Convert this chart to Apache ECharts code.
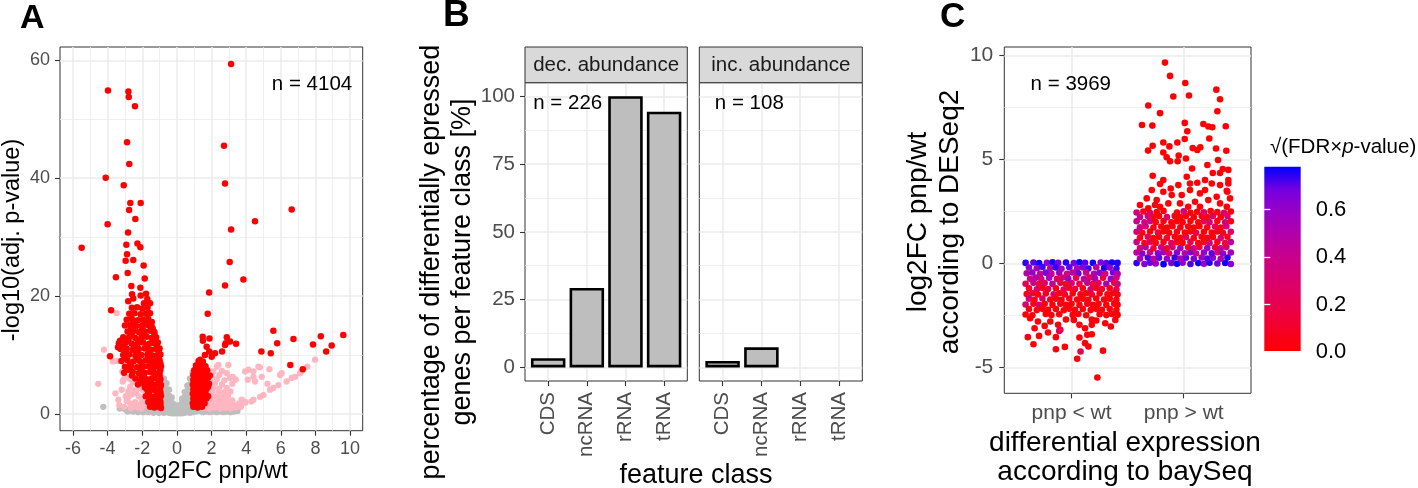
<!DOCTYPE html>
<html><head><meta charset="utf-8">
<script src="https://cdn.jsdelivr.net/npm/echarts@6/dist/echarts.min.js"></script>
<style>html,body{margin:0;padding:0;background:#fff}#c{width:1418px;height:488px}</style>
</head><body><div id="c"></div>
<script>
// ---------------- Panel A : volcano plot ----------------
const aXTicks = [-6,-4,-2,0,2,4,6,8,10];
const aYTicks = [0,20,40,60];
const volcanoGray = [
[-4.25,1.2],
[-3.3,0.9],[-3.0,0.8],[-2.7,0.9],[-2.4,0.7],[-2.1,0.8],[-1.8,0.6],[-1.5,0.7],[-1.2,0.5],[-2.85,0.4],[-2.55,0.4],[-2.25,0.3],[-1.95,0.3],[-1.65,0.3],[-1.35,0.2],[-1.05,0.2],
[-0.9,0.3],[-0.9,1.3],[-0.9,2.3],[-0.9,3.3],[-0.9,4.3],[-0.9,5.3],[-0.9,6.2],
[-0.75,0.2],[-0.75,1.1],[-0.75,2.1],[-0.75,3.1],[-0.75,4.1],[-0.75,5.1],[-0.75,6.0],
[-0.6,0.3],[-0.6,1.2],[-0.6,2.2],[-0.6,3.2],[-0.6,4.2],[-0.6,5.2],
[-0.45,0.2],[-0.45,1.1],[-0.45,2.1],[-0.45,3.1],[-0.45,4.1],
[-0.3,0.1],[-0.3,1.0],[-0.3,1.9],[-0.3,2.8],
[-0.15,0.1],[-0.15,0.9],[-0.15,1.6],
[0.0,0.1],[0.0,0.6],
[0.15,0.1],[0.15,0.9],[0.15,1.5],
[0.3,0.1],[0.3,1.0],[0.3,1.9],[0.3,2.6],
[0.45,0.2],[0.45,1.1],[0.45,2.0],[0.45,2.9],[0.45,3.7],
[0.6,0.3],[0.6,1.2],[0.6,2.1],[0.6,3.0],[0.6,3.9],[0.6,4.8],
[0.75,0.2],[0.75,1.1],[0.75,2.0],[0.75,3.0],[0.75,4.0],[0.75,5.0],[0.75,6.0],
[0.9,0.3],[0.9,1.2],[0.9,2.2],[0.9,3.2],[0.9,4.2],[0.9,5.2],[0.9,6.3],[0.9,7.0],
[1.1,0.4],[1.3,0.5],[1.5,0.3],[1.7,0.4],[1.9,0.3],[2.1,0.4],[2.3,0.3],[2.5,0.4],[2.7,0.3],[2.9,0.4],[3.1,0.3],[3.3,0.4],[3.5,0.5],
[1.2,0.9],[1.6,0.8],[2.0,0.8],[2.4,0.7],[2.8,0.7],[3.2,0.8]
];
const volcanoPink = [
[-3.48,17.1],[-4.21,10.9],[-3.44,9.0],[-4.54,5.1],[-3.13,5.5],[-3.19,4.1],[-3.33,1.5],[-3.38,2.4],[-2.95,3.0],[-2.7,4.6],
[-2.9,2.2],[-2.6,3.3],[-2.4,2.0],[-2.45,4.0],[-2.2,3.0],[-2.1,1.6],[-2.25,5.6],[-2.0,2.4],[-1.85,1.5],[-2.7,1.8],
[-2.5,1.3],[-3.0,6.3],[-2.75,6.0],[-2.55,5.4],[-1.95,4.0],[-2.15,4.4],[-3.55,3.5],[-2.8,3.8],[-2.35,3.6],[-1.75,1.9],
[-2.05,0.9],[-2.65,1.0],[-3.05,1.2],[-3.7,8.9],[-3.15,7.2],[-2.25,1.1],[-1.6,1.2],[-3.09,5.8],[-2.8,2.9],
[1.6,1.0],[1.9,0.9],[2.2,1.1],[2.5,0.9],[2.8,1.0],[3.1,0.9],[3.4,1.1],[3.7,1.2],
[1.75,1.6],[2.05,1.7],[2.35,1.5],[2.65,1.6],[2.95,1.7],[3.3,1.5],[3.6,1.8],[3.95,1.9],[4.3,2.1],
[1.65,2.3],[1.95,2.4],[2.25,2.2],[2.55,2.3],[2.85,2.4],[3.2,2.3],[3.74,2.4],[4.42,2.4],
[1.7,3.0],[2.0,3.1],[2.3,2.9],[2.6,3.0],[2.95,3.1],[4.8,2.9],[5.0,3.2],
[1.75,3.7],[2.05,3.8],[2.4,3.6],[2.75,3.7],[3.1,3.8],
[1.8,4.4],[2.1,4.5],[2.45,4.3],[2.88,4.4],[5.38,4.1],[5.57,4.4],
[1.85,5.1],[2.2,5.2],[2.6,5.0],[3.2,5.1],[5.23,5.1],[5.86,4.9],
[1.9,5.8],[2.3,5.9],[2.75,5.7],[3.4,5.8],[4.09,5.8],[4.51,5.5],[6.34,5.5],
[2.0,6.5],[2.45,6.6],[3.07,6.1],[3.23,6.3],[4.42,6.3],[4.9,6.3],[5.96,6.6],[6.63,6.1],[6.05,6.9],[7.11,6.9],
[2.1,7.2],[2.6,7.3],[2.88,6.9],[3.94,7.2],[4.42,7.2],[5.34,7.6],[7.21,7.3],[4.13,7.5],
[2.3,8.0],[2.97,8.3],[2.4,8.3],[4.8,7.9],[4.71,8.0],[7.53,8.0],[7.98,9.2],[3.94,2.1],[3.26,1.5],[6.83,6.3]
];
const volcanoRed = [
[-3.98,54.9],[-2.80,54.7],[-2.78,53.8],[-2.42,52.2],[-2.88,46.1],[-2.75,42.4],[-4.11,40.1],[-3.07,38.8],[-2.69,35.8],[-2.09,35.8],
[-2.76,34.6],[-2.40,33.1],[-4.00,32.2],[-2.82,30.8],[-5.50,28.2],[-2.92,28.7],[-2.28,28.9],[-2.11,28.3],[-2.88,27.1],[-2.52,26.1],
[-2.96,26.0],[-1.92,25.2],[-2.84,23.9],[-3.52,23.2],[-1.86,23.0],[-2.63,21.7],[-2.11,21.4],[-3.80,17.6],[-2.59,20.3],[-2.09,20.1],
[-1.78,20.4],[-1.71,19.5],[-2.81,19.1],[-2.52,19.6],[-1.90,18.8],[-1.55,18.8],
[-2.6,18.0],[-2.3,18.1],[-2.0,17.9],[-1.7,18.0],
[-2.75,17.0],[-2.45,17.1],[-2.1,16.9],[-1.8,17.0],[-1.55,17.1],
[-2.9,16.0],[-2.6,16.1],[-2.25,15.9],[-1.95,16.0],[-1.65,16.1],
[-2.5,15.5],[-1.85,15.4],[-1.45,15.6],
[-3.0,15.0],[-2.7,15.1],[-2.35,14.9],[-2.0,15.0],[-1.7,15.1],[-1.45,14.8],
[-2.65,14.5],[-2.0,14.4],[-1.4,14.5],
[-2.85,14.0],[-2.5,14.1],[-2.2,13.9],[-1.85,14.0],[-1.55,14.1],[-1.3,13.9],
[-2.6,13.5],[-1.9,13.4],[-1.3,13.6],
[-3.1,13.0],[-2.75,13.1],[-2.4,12.9],[-2.05,13.0],[-1.75,13.1],[-1.45,12.9],[-1.2,13.0],
[-2.8,12.5],[-2.1,12.4],[-1.4,12.6],
[-3.35,12.0],[-2.95,12.1],[-2.6,11.9],[-2.25,12.0],[-1.95,12.1],[-1.6,11.9],[-1.3,12.0],[-1.1,12.1],
[-3.1,11.5],[-2.4,11.4],[-1.7,11.6],[-1.15,11.5],
[-3.25,11.0],[-2.9,11.1],[-2.55,10.9],[-2.2,11.0],[-1.85,11.1],[-1.5,10.9],[-1.2,11.0],[-1.0,11.1],
[-2.95,10.5],[-2.3,10.4],[-1.6,10.6],[-1.05,10.5],
[-3.1,10.0],[-2.75,10.1],[-2.4,9.9],[-2.05,10.0],[-1.7,10.1],[-1.4,9.9],[-1.1,10.0],[-0.95,10.1],
[-2.95,9.5],[-2.3,9.4],[-1.6,9.6],[-1.05,9.5],
[-3.2,9.0],[-2.85,9.1],[-2.5,8.9],[-2.15,9.0],[-1.8,9.1],[-1.5,8.9],[-1.25,9.0],[-1.0,9.1],
[-2.7,8.5],[-2.0,8.4],[-1.35,8.6],[-0.95,8.5],
[-3.0,8.0],[-2.65,8.1],[-2.3,7.9],[-1.95,8.0],[-1.65,8.1],[-1.35,7.9],[-1.1,8.0],[-0.92,8.1],
[-2.8,7.5],[-2.1,7.4],[-1.4,7.6],[-0.95,7.5],
[-3.05,7.0],[-2.55,7.1],[-2.2,6.9],[-1.85,7.0],[-1.55,7.1],[-1.25,6.9],[-1.0,7.0],
[-2.6,6.5],[-1.9,6.4],[-1.3,6.6],[-1.0,6.5],
[-2.4,6.0],[-2.05,6.1],[-1.75,5.9],[-1.45,6.0],[-1.2,6.1],[-0.95,5.9],
[-2.1,5.5],[-1.5,5.4],[-1.0,5.6],
[-2.25,5.0],[-1.9,5.1],[-1.6,4.9],[-1.35,5.0],[-1.1,5.1],[-0.92,4.9],
[-1.85,4.5],[-1.3,4.4],[-0.95,4.6],
[-1.7,4.0],[-1.45,4.1],[-1.2,3.9],[-0.98,4.0],
[-1.65,3.5],[-1.15,3.4],[-0.95,3.6],
[-1.8,3.0],[-1.55,3.1],[-1.3,2.9],[-1.05,3.0],[-0.92,3.1],
[-1.5,2.5],[-1.25,2.4],[-1.0,2.5],
[-1.65,2.0],[-1.4,2.1],[-1.15,1.9],[-0.95,2.0],
[-1.45,1.5],[-1.2,1.6],[-0.95,1.5],
[-1.55,1.2],[-1.3,1.1],[-1.05,1.2],[-0.92,1.0],
[-3.28,12.4],[-3.86,9.8],[-3.4,11.3],
[3.13,59.4],[2.72,45.5],[2.78,39.1],[6.63,34.7],[4.51,32.7],[3.13,31.3],[3.05,25.8],[3.84,22.8],[2.78,21.8],[1.86,20.6],[1.78,17.0],
[5.57,14.1],[9.61,13.4],[8.31,13.2],[6.73,12.7],[5.79,12.0],[7.86,11.8],[8.94,11.6],[4.88,10.6],[5.42,10.3],[8.62,10.6],[6.55,8.3],[7.27,7.6],
[3.42,11.9],[2.88,13.0],[2.61,10.6],[2.82,12.0],[3.07,12.3],[2.78,11.7],[1.49,13.1],[1.88,12.8],[1.5,12.4],[1.72,11.4],[1.87,10.6],[2.01,9.7],[2.2,10.3],[1.62,10.0],[1.34,9.2],[1.37,8.3],
[1.25,9.0],[1.5,8.9],
[1.1,8.2],[1.65,8.1],
[1.15,7.8],[1.55,7.7],
[1.0,7.4],[1.25,7.5],[1.5,7.3],[1.75,7.4],
[1.1,7.0],[1.6,6.9],
[0.95,6.6],[1.2,6.7],[1.45,6.5],[1.7,6.6],[1.9,6.5],
[1.05,6.2],[1.55,6.1],[1.8,6.2],
[0.95,5.8],[1.2,5.9],[1.45,5.7],[1.7,5.8],
[1.05,5.4],[1.55,5.3],
[0.92,5.0],[1.15,5.1],[1.4,4.9],[1.65,5.0],[1.85,5.1],
[1.05,4.6],[1.55,4.5],[1.8,4.6],
[0.95,4.2],[1.2,4.3],[1.45,4.1],[1.7,4.2],
[1.05,3.8],[1.55,3.7],
[0.92,3.4],[1.15,3.5],[1.4,3.3],[1.65,3.4],
[1.05,3.0],[1.55,2.9],[1.8,3.0],
[0.95,2.6],[1.2,2.7],[1.45,2.5],[1.7,2.6],
[1.05,2.2],[1.5,2.1],
[0.92,1.8],[1.15,1.9],[1.4,1.7],[1.6,1.8],
[1.05,1.5],[1.3,1.4],
[0.95,1.2],[1.2,1.1],[1.45,1.2]
];

// ---------------- Panel B : bar facets ----------------
const featureClasses = ['CDS','ncRNA','rRNA','tRNA'];
const decAbundance = [3.4, 29.3, 100, 94.3];
const incAbundance = [2.4, 7.4, null, null];
const bYTicks = [0,25,50,75,100];
const facetNames = ['dec. abundance','inc. abundance'];

// ---------------- Panel C : jitter plot ----------------
const cCategories = ['pnp < wt','pnp > wt'];
const cYTicks = [-5,0,5,10];
const colorTicks = [0,0.2,0.4,0.6];
// [x jitter position, log2FC, sqrt(FDR x p-value)]
const jitterDown = [
[0.59,0.02,0.74],[0.66,0.04,0.70],[0.71,0.01,0.77],[0.78,0.03,0.62],[0.83,0.05,0.76],[0.88,0.02,0.68],[0.95,0.04,0.75],[1.02,0.01,0.66],[1.07,0.05,0.77],[1.12,0.03,0.71],[1.19,0.02,0.76],[1.26,0.04,0.64],[1.31,0.01,0.70],[1.36,0.04,0.77],[1.41,0.02,0.75],
[0.62,-0.20,0.62],[0.69,-0.24,0.55],[0.74,-0.18,0.72],[0.81,-0.23,0.48],[0.86,-0.20,0.74],[0.91,-0.26,0.58],[0.98,-0.19,0.70],[1.05,-0.24,0.52],[1.10,-0.20,0.64],[1.15,-0.25,0.72],[1.22,-0.19,0.45],[1.29,-0.23,0.76],[1.34,-0.20,0.60],[1.40,-0.25,0.73],
[0.60,-0.48,0.48],[0.65,-0.44,0.60],[0.72,-0.50,0.42],[0.77,-0.45,0.66],[0.82,-0.51,0.40],[0.89,-0.46,0.58],[0.96,-0.50,0.35],[1.01,-0.44,0.45],[1.06,-0.49,0.69],[1.13,-0.45,0.38],[1.20,-0.51,0.50],[1.25,-0.46,0.64],[1.30,-0.50,0.32],[1.37,-0.44,0.67],[1.41,-0.51,0.52],
[0.63,-0.74,0.35],[0.68,-0.69,0.50],[0.73,-0.76,0.28],[0.80,-0.70,0.55],[0.87,-0.75,0.22],[0.92,-0.68,0.30],[0.97,-0.74,0.58],[1.04,-0.70,0.18],[1.11,-0.76,0.47],[1.16,-0.69,0.25],[1.21,-0.74,0.52],[1.28,-0.70,0.15],[1.35,-0.75,0.60],[1.40,-0.69,0.33],
[0.59,-0.98,0.22],[0.66,-0.94,0.40],[0.71,-1.00,0.12],[0.76,-0.95,0.30],[0.83,-0.99,0.45],[0.90,-0.94,0.18],[0.95,-1.00,0.08],[1.00,-0.95,0.35],[1.07,-0.99,0.20],[1.14,-0.94,0.42],[1.19,-1.00,0.10],[1.24,-0.95,0.28],[1.31,-0.99,0.50],[1.38,-0.94,0.15],[1.41,-1.00,0.32],
[0.62,-1.20,0.10],[0.69,-1.25,0.30],[0.74,-1.19,0.05],[0.79,-1.24,0.18],[0.86,-1.20,0.04],[0.93,-1.26,0.25],[0.98,-1.19,0.06],[1.03,-1.24,0.15],[1.10,-1.20,0.03],[1.17,-1.25,0.32],[1.22,-1.19,0.08],[1.27,-1.24,0.12],[1.34,-1.20,0.04],[1.40,-1.25,0.22],
[0.60,-1.48,0.05],[0.65,-1.44,0.14],[0.70,-1.50,0.03],[0.77,-1.45,0.08],[0.84,-1.49,0.30],[0.89,-1.44,0.04],[0.94,-1.50,0.10],[1.01,-1.45,0.02],[1.08,-1.49,0.06],[1.13,-1.44,0.03],[1.18,-1.50,0.12],[1.25,-1.45,0.04],[1.32,-1.49,0.02],[1.37,-1.44,0.07],[1.41,-1.50,0.03],
[0.62,-1.70,0.34],[0.67,-1.75,0.04],[0.74,-1.69,0.28],[0.81,-1.74,0.03],[0.86,-1.70,0.05],[0.91,-1.76,0.02],[0.98,-1.69,0.08],[1.05,-1.74,0.03],[1.10,-1.70,0.02],[1.15,-1.75,0.06],[1.22,-1.69,0.02],[1.29,-1.74,0.04],[1.34,-1.70,0.02],[1.40,-1.75,0.05],
[0.59,-1.98,0.30],[0.66,-1.94,0.02],[0.71,-1.99,0.36],[0.76,-1.95,0.03],[0.83,-2.00,0.02],[0.90,-1.94,0.05],[0.95,-1.99,0.02],[1.00,-1.95,0.03],[1.07,-2.00,0.02],[1.14,-1.94,0.04],[1.19,-1.99,0.02],[1.24,-1.95,0.03],[1.31,-2.00,0.02],[1.38,-1.94,0.03],[1.41,-1.99,0.02],
[0.62,-2.20,0.03],[0.69,-2.25,0.02],[0.74,-2.19,0.02],[0.79,-2.24,0.03],[0.86,-2.20,0.02],[0.93,-2.26,0.02],[0.98,-2.19,0.03],[1.03,-2.24,0.02],[1.10,-2.20,0.02],[1.17,-2.25,0.03],[1.22,-2.19,0.02],[1.27,-2.24,0.02],[1.34,-2.20,0.03],[1.40,-2.25,0.02],
[0.59,-2.46,0.02],[0.65,-2.50,0.02],[0.77,-2.44,0.03],[0.82,-2.49,0.02],[0.89,-2.45,0.02],[1.01,-2.48,0.02],[1.06,-2.44,0.03],[1.13,-2.50,0.02],[1.25,-2.45,0.02],[1.31,-2.49,0.02],[1.36,-2.44,0.03],[1.41,-2.48,0.02],
[0.63,-2.64,0.02],[0.70,-2.80,0.02],[0.81,-2.80,0.02],[0.95,-2.70,0.02],[1.02,-2.72,0.02],[1.18,-2.70,0.02],[1.30,-2.88,0.02],[1.39,-2.72,0.02],[1.22,-2.75,0.02],
[0.76,-3.01,0.02],[0.88,-2.96,0.02],[0.90,-3.20,0.25],[1.07,-2.96,0.02],[1.12,-3.12,0.02],[1.18,-2.96,0.02],[1.35,-3.04,0.02],[0.67,-3.12,0.02],
[0.61,-3.55,0.02],[0.66,-3.89,0.02],[0.71,-3.49,0.02],[0.79,-3.33,0.02],[0.86,-3.55,0.02],[0.86,-4.13,0.02],[0.94,-4.02,0.02],[0.89,-3.25,0.22],
[1.05,-4.59,0.02],[1.08,-4.24,0.18],[1.07,-3.57,0.02],[1.12,-3.84,0.02],[1.14,-3.44,0.02],[1.18,-3.41,0.02],[1.15,-4.00,0.02],[1.28,-4.20,0.02],[1.23,-5.49,0.02]
];
const jitterUp = [
[1.58,0.01,0.74],[1.65,-0.03,0.62],[1.70,0.03,0.70],[1.75,-0.01,0.55],[1.82,-0.04,0.78],[1.89,0.02,0.66],[1.94,-0.02,0.77],[1.99,0.03,0.60],[2.06,-0.03,0.71],[2.13,0.01,0.77],[2.18,-0.02,0.58],[2.23,0.03,0.76],[2.30,-0.01,0.68],[2.37,0.02,0.77],[2.42,-0.03,0.64],
[1.61,0.23,0.52],[1.68,0.28,0.72],[1.73,0.22,0.45],[1.78,0.27,0.70],[1.85,0.22,0.60],[1.92,0.28,0.74],[1.97,0.23,0.48],[2.02,0.27,0.70],[2.09,0.22,0.66],[2.16,0.28,0.55],[2.21,0.23,0.71],[2.26,0.27,0.62],[2.33,0.22,0.50],[2.39,0.28,0.75],
[1.58,0.52,0.45],[1.63,0.47,0.62],[1.70,0.53,0.38],[1.77,0.48,0.66],[1.82,0.53,0.55],[1.87,0.47,0.30],[1.94,0.52,0.64],[2.01,0.48,0.50],[2.06,0.53,0.68],[2.11,0.47,0.42],[2.18,0.52,0.60],[2.25,0.48,0.70],[2.30,0.53,0.35],[2.35,0.47,0.62],[2.42,0.52,0.57],
[1.61,0.73,0.30],[1.66,0.78,0.50],[1.73,0.72,0.12],[1.80,0.77,0.42],[1.85,0.72,0.05],[1.90,0.78,0.35],[1.97,0.73,0.55],[2.04,0.77,0.08],[2.09,0.72,0.40],[2.14,0.78,0.22],[2.21,0.73,0.58],[2.28,0.77,0.10],[2.33,0.72,0.45],[2.38,0.78,0.28],
[1.58,1.02,0.40],[1.65,0.97,0.05],[1.70,1.03,0.25],[1.75,0.98,0.03],[1.82,1.03,0.08],[1.89,0.97,0.30],[1.94,1.02,0.04],[1.99,0.98,0.02],[2.06,1.03,0.20],[2.13,0.97,0.04],[2.18,1.02,0.03],[2.23,0.98,0.35],[2.30,1.03,0.05],[2.37,0.97,0.15],[2.42,1.02,0.45],
[1.61,1.23,0.06],[1.68,1.28,0.22],[1.73,1.22,0.03],[1.78,1.27,0.02],[1.85,1.22,0.10],[1.92,1.28,0.03],[1.97,1.23,0.02],[2.02,1.27,0.25],[2.09,1.22,0.03],[2.16,1.28,0.02],[2.21,1.23,0.08],[2.26,1.27,0.03],[2.33,1.22,0.30],[2.39,1.28,0.04],
[1.58,1.52,0.32],[1.63,1.47,0.04],[1.70,1.53,0.02],[1.77,1.48,0.15],[1.82,1.53,0.03],[1.87,1.47,0.02],[1.94,1.52,0.05],[2.01,1.48,0.02],[2.06,1.53,0.03],[2.11,1.47,0.18],[2.18,1.52,0.02],[2.25,1.48,0.04],[2.30,1.53,0.02],[2.35,1.47,0.06],[2.42,1.52,0.28],
[1.61,1.73,0.38],[1.66,1.78,0.30],[1.73,1.72,0.05],[1.80,1.77,0.02],[1.85,1.72,0.03],[1.90,1.78,0.02],[1.97,1.73,0.04],[2.04,1.77,0.02],[2.09,1.72,0.02],[2.14,1.78,0.03],[2.21,1.73,0.02],[2.28,1.77,0.22],[2.33,1.72,0.03],[2.38,1.78,0.35],
[1.58,2.02,0.42],[1.65,1.97,0.35],[1.70,2.03,0.40],[1.75,1.98,0.03],[1.82,2.03,0.02],[1.89,1.97,0.04],[1.94,2.02,0.02],[1.99,1.98,0.02],[2.06,2.03,0.03],[2.13,1.97,0.02],[2.18,2.02,0.25],[2.23,1.98,0.30],[2.30,2.03,0.02],[2.37,1.97,0.38],[2.42,2.02,0.03],
[1.61,2.23,0.40],[1.68,2.28,0.36],[1.73,2.22,0.03],[1.78,2.27,0.02],[1.85,2.22,0.28],[1.92,2.28,0.02],[1.97,2.23,0.03],[2.02,2.27,0.02],[2.09,2.22,0.02],[2.16,2.28,0.04],[2.21,2.23,0.02],[2.26,2.27,0.32],[2.33,2.22,0.02],[2.39,2.28,0.36],
[1.58,2.44,0.38],[1.64,2.49,0.05],[1.70,2.42,0.30],[1.76,2.47,0.02],[1.82,2.52,0.03],[1.94,2.44,0.02],[2.00,2.50,0.35],[2.06,2.43,0.02],[2.12,2.48,0.02],[2.18,2.45,0.28],[2.24,2.51,0.02],[2.30,2.46,0.03],[2.36,2.43,0.30],[2.42,2.49,0.02],
[1.789,3.81,0.02],[1.715,3.52,0.02],[1.884,3.60,0.02],[1.818,3.44,0.02],[1.610,2.80,0.02],[1.670,3.12,0.02],[1.759,3.04,0.02],[1.744,2.80,0.02],[1.893,3.28,0.02],[1.982,3.28,0.02],
[2.056,3.84,0.02],[2.121,3.87,0.02],[2.056,3.52,0.02],[2.145,3.36,0.02],[2.190,3.52,0.02],[2.250,3.84,0.02],[2.324,3.76,0.02],[2.398,3.84,0.02],[2.384,3.49,0.02],[2.294,3.20,0.02],
[2.219,3.04,0.02],[2.101,2.96,0.02],[1.967,2.88,0.02],[1.863,2.88,0.02],[2.324,2.88,0.02],[2.384,2.72,0.02],[1.818,4.00,0.02],[2.027,4.16,0.02],[2.190,4.00,0.02],[1.952,3.76,0.02],
[2.145,2.72,0.02],[2.040,2.72,0.02],[1.789,2.72,0.02],[1.684,2.64,0.02],[2.413,3.12,0.02],[2.398,4.00,0.02],[2.389,3.44,0.02],
[1.833,9.65,0.01],[1.878,9.01,0.01],[2.014,8.67,0.01],[2.291,8.35,0.01],[1.907,8.02,0.01],[2.047,8.07,0.01],[2.324,7.89,0.01],[1.684,7.59,0.01],[2.300,7.31,0.01],[1.789,7.22,0.01],
[1.628,6.65,0.01],[1.720,6.62,0.01],[2.009,6.75,0.01],[2.175,6.70,0.01],[2.220,6.58,0.01],[2.255,6.54,0.01],[2.375,6.59,0.01],[2.032,6.35,0.01],[2.009,5.98,0.01],[2.228,6.00,0.01],
[1.818,5.81,0.01],[1.723,5.65,0.01],[1.872,5.62,0.01],[1.943,5.81,0.01],[1.682,5.42,0.01],[2.080,5.54,0.01],[2.121,5.45,0.01],[2.148,5.58,0.01],[2.288,5.52,0.01],[2.380,5.41,0.01],
[1.818,5.33,0.01],[1.848,5.10,0.01],[1.878,4.91,0.01],[1.955,5.18,0.01],[1.946,4.91,0.01],[2.020,5.04,0.01],[2.211,4.73,0.01],[2.306,4.97,0.01],[2.074,4.56,0.01],[2.259,4.34,0.01],
[2.324,4.34,0.01],[2.348,4.53,0.01],[2.398,4.49,0.01],[1.723,4.21,0.01]
];

// ---------------- styling constants ----------------
const FONT = '"Liberation Sans", Arial, Helvetica, sans-serif';
const GRID_COLOR = '#ebebeb';
const TICK_COLOR = '#333333';
const LABEL_COLOR = '#4d4d4d';
const GRADIENT = ['#FF0000','#F4002A','#E8004F','#DA006C','#CA0088','#B300A7','#9A00C3','#7300E0','#0000FF'];

function midpoints(t) { const r = []; for (let i = 0; i < t.length - 1; i++) r.push((t[i] + t[i+1]) / 2); return r; }

function gridSeries(idx, xMajor, xMinor, yMajor, yMinor) {
  const data = [];
  xMinor.forEach(v => data.push({ xAxis: v, lineStyle: { width: 0.8 } }));
  yMinor.forEach(v => data.push({ yAxis: v, lineStyle: { width: 0.8 } }));
  xMajor.forEach(v => data.push({ xAxis: v, lineStyle: { width: 1.5 } }));
  yMajor.forEach(v => data.push({ yAxis: v, lineStyle: { width: 1.5 } }));
  return {
    type: 'scatter', xAxisIndex: idx, yAxisIndex: idx, data: [], z: 1, silent: true,
    markLine: {
      z: 1, silent: true, animation: false, symbol: ['none', 'none'], label: { show: false },
      emphasis: { disabled: true },
      lineStyle: { color: GRID_COLOR, type: 'solid', width: 1.5 }, data
    }
  };
}

function valueX(grid, min, max, ticks, extra) {
  return Object.assign({
    gridIndex: grid, type: 'value', min, max,
    axisLine: { show: false, onZero: false }, splitLine: { show: false },
    axisTick: { show: true, customValues: ticks, length: 5, lineStyle: { color: TICK_COLOR, width: 1.1 } },
    axisLabel: { customValues: ticks, color: LABEL_COLOR, fontFamily: FONT }
  }, extra || {});
}

const tickLbl = (ticks, size, margin, more) => Object.assign({ customValues: ticks, color: LABEL_COLOR, fontFamily: FONT, fontSize: size, margin }, more || {});

const panelGrid = (left, top, width, height) => ({ left, top, width, height, show: true, backgroundColor: '#fff', borderColor: '#333333', borderWidth: 1, containLabel: false });

const txt = (text, x, y, size, extra) => ({
  type: 'text', x, y, z: 50, silent: true, rotation: (extra && extra.rotation) || 0,
  style: Object.assign({ text, fontSize: size, fontFamily: FONT, fill: '#000', align: 'center', verticalAlign: 'middle' }, (extra && extra.style) || {})
});

const facetLeft = [525, 699.3];
const facetWidth = [162.3, 163];

const option = {
  animation: false,
  backgroundColor: '#fff',
  textStyle: { fontFamily: FONT },
  grid: [
    panelGrid(60, 47, 302.7, 383.7),
    panelGrid(facetLeft[0], 82.7, facetWidth[0], 298.3),
    panelGrid(facetLeft[1], 82.7, facetWidth[1], 298.3),
    panelGrid(1004.3, 47, 246.7, 346.3),
    { left: 1264.3, top: 166.7, width: 36.4, height: 185.6, show: false }
  ],
  xAxis: [
    valueX(0, -6.75, 10.73, aXTicks, { axisLabel: tickLbl(aXTicks, 18, 9) }),
    valueX(1, 0.4, 4.6, [1,2,3,4], { axisLabel: tickLbl([1,2,3,4], 20.5, 11, { rotate: 90, formatter: v => featureClasses[Math.round(v) - 1] }) }),
    valueX(2, 0.4, 4.6, [1,2,3,4], { axisLabel: tickLbl([1,2,3,4], 20.5, 11, { rotate: 90, formatter: v => featureClasses[Math.round(v) - 1] }) }),
    valueX(3, 0.4, 2.6, [1,2], { axisLabel: tickLbl([1,2], 21, 9, { formatter: v => cCategories[Math.round(v) - 1] }) }),
    { gridIndex: 4, type: 'value', show: false, min: 0, max: 1 }
  ],
  yAxis: [
    valueX(0, -2.85, 62.27, aYTicks, { axisLabel: tickLbl(aYTicks, 18, 10) }),
    valueX(1, -5, 105, bYTicks, { axisLabel: tickLbl(bYTicks, 20.5, 10) }),
    valueX(2, -5, 105, bYTicks, { axisLabel: { show: false }, axisTick: { show: false } }),
    valueX(3, -6.25, 10.4, cYTicks, { axisLabel: tickLbl(cYTicks, 21, 11) }),
    { gridIndex: 4, type: 'value', position: 'right', min: 0, max: 0.78, z: 10,
      axisLine: { show: false }, splitLine: { show: false },
      axisTick: { show: true, inside: true, length: 6, customValues: colorTicks.filter(v => v > 0), lineStyle: { color: '#ffffff', width: 1.3 } },
      axisLabel: { customValues: colorTicks, formatter: v => v.toFixed(1), color: '#000', fontSize: 22, fontFamily: FONT, margin: 15 } },
    { gridIndex: 4, type: 'value', position: 'left', min: 0, max: 0.78, z: 10,
      axisLine: { show: false }, splitLine: { show: false }, axisLabel: { show: false },
      axisTick: { show: true, inside: true, length: 6, customValues: colorTicks.filter(v => v > 0), lineStyle: { color: '#ffffff', width: 1.3 } } }
  ],
  visualMap: [{
    type: 'continuous', show: false, min: 0, max: 0.78, dimension: 2, seriesIndex: 10,
    inRange: { color: GRADIENT }
  }],
  series: [
    gridSeries(0, aXTicks, midpoints(aXTicks), aYTicks, midpoints(aYTicks)),
    { type: 'scatter', xAxisIndex: 0, yAxisIndex: 0, data: volcanoGray, symbolSize: 6.3, z: 2, itemStyle: { color: '#bebebe', opacity: 1 }, silent: true },
    { type: 'scatter', xAxisIndex: 0, yAxisIndex: 0, data: volcanoPink, symbolSize: 6.3, z: 2, itemStyle: { color: '#ffb6c1', opacity: 1 }, silent: true },
    { type: 'scatter', xAxisIndex: 0, yAxisIndex: 0, data: volcanoRed, symbolSize: 6.5, z: 2, itemStyle: { color: '#ff0000', opacity: 1 }, silent: true },
    gridSeries(1, [1,2,3,4], [], bYTicks, midpoints(bYTicks)),
    gridSeries(2, [1,2,3,4], [], bYTicks, midpoints(bYTicks)),
    { type: 'bar', xAxisIndex: 1, yAxisIndex: 1, barWidth: 34.5, z: 2, silent: true,
      data: decAbundance.map((v, i) => [i + 1, v]).filter(d => d[1] != null),
      itemStyle: { color: '#bebebe', borderColor: '#000', borderWidth: 2.6 } },
    { type: 'bar', xAxisIndex: 2, yAxisIndex: 2, barWidth: 34.5, z: 2, silent: true,
      data: incAbundance.map((v, i) => [i + 1, v]).filter(d => d[1] != null),
      itemStyle: { color: '#bebebe', borderColor: '#000', borderWidth: 2.6 } },
    gridSeries(3, [1,2], [], cYTicks, midpoints(cYTicks)),
    { type: 'scatter', xAxisIndex: 4, yAxisIndex: 4, data: [], silent: true },
    { type: 'scatter', xAxisIndex: 3, yAxisIndex: 3, data: jitterDown.concat(jitterUp), symbolSize: 6.6, z: 2, silent: true, itemStyle: { opacity: 1 } }
  ],
  graphic: { elements: [
    txt('A', 20, 18.5, 34, { style: { fontWeight: 'bold', align: 'left' } }),
    txt('B', 443, 16, 37, { style: { fontWeight: 'bold', align: 'left' } }),
    txt('C', 940, 17.5, 35, { style: { fontWeight: 'bold', align: 'left' } }),
    txt('-log10(adj. p-value)', 13, 240, 23.5, { rotation: Math.PI / 2 }),
    txt('log2FC pnp/wt', 212, 472, 23.5),
    txt('n = 4104', 312, 84, 20.5),
    { type: 'rect', z: 40, silent: true, shape: { x: facetLeft[0], y: 47, width: facetWidth[0], height: 35.7 }, style: { fill: '#d9d9d9', stroke: '#333333', lineWidth: 1 } },
    { type: 'rect', z: 40, silent: true, shape: { x: facetLeft[1], y: 47, width: facetWidth[1], height: 35.7 }, style: { fill: '#d9d9d9', stroke: '#333333', lineWidth: 1 } },
    txt(facetNames[0], facetLeft[0] + facetWidth[0] / 2, 65.5, 20.5, { style: { fill: '#1a1a1a' } }),
    txt(facetNames[1], facetLeft[1] + facetWidth[1] / 2, 65.5, 20.5, { style: { fill: '#1a1a1a' } }),
    txt('n = 226', 567.7, 103.3, 20.5),
    txt('n = 108', 749.3, 103.3, 20.5),
    txt('percentage of differentially epressed\ngenes per feature class [%]', 447, 262, 27, { rotation: Math.PI / 2, style: { lineHeight: 31 } }),
    txt('feature class', 696, 476, 27),
    txt('n = 3969', 1070.8, 84, 20.5),
    txt('log2FC pnp/wt\naccording to DESeq2', 934, 222, 28, { rotation: Math.PI / 2, style: { lineHeight: 32 } }),
    txt('differential expression\naccording to baySeq', 1125, 458, 28, { style: { lineHeight: 29 } }),
    txt('√(FDR×{i|p}-value)', 1270, 147, 20.5, { style: { align: 'left', rich: { i: { fontStyle: 'italic', fontSize: 20.5, fontFamily: FONT, fill: '#000' } } } }),
    { type: 'rect', z: 1, silent: true, shape: { x: 1264.3, y: 166.7, width: 36.4, height: 184.3 },
      style: { fill: { type: 'linear', x: 0, y: 1, x2: 0, y2: 0, colorStops: GRADIENT.map((c, i) => ({ offset: i / (GRADIENT.length - 1), color: c })) } } }
  ]}
};

const chart = echarts.init(document.getElementById('c'), null, { renderer: 'canvas', width: 1418, height: 488 });
chart.setOption(option);
</script>
</body></html>
